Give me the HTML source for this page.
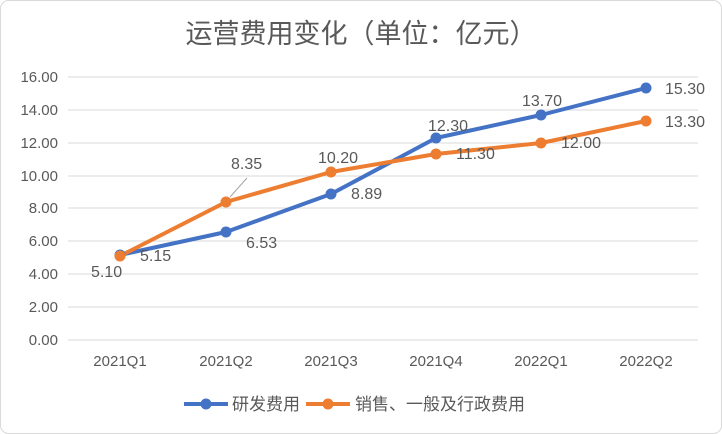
<!DOCTYPE html>
<html><head><meta charset="utf-8"><style>
body{margin:0;background:#fff;}
svg{display:block;font-family:"Liberation Sans","Noto Sans CJK SC",sans-serif;}
</style></head><body>
<svg width="722" height="434" viewBox="0 0 722 434">
<rect x="0.5" y="0.5" width="721" height="433" rx="8" fill="#fff" stroke="#d9d9d9"/>
<text x="361" y="43" text-anchor="middle" font-size="27" fill="#595959">运营费用变化（单位：亿元）</text>
<g stroke="#d9d9d9" stroke-width="1">
<line x1="68" x2="698" y1="77" y2="77"/><line x1="68" x2="698" y1="110" y2="110"/>
<line x1="68" x2="698" y1="143" y2="143"/><line x1="68" x2="698" y1="176" y2="176"/>
<line x1="68" x2="698" y1="208" y2="208"/><line x1="68" x2="698" y1="241" y2="241"/>
<line x1="68" x2="698" y1="274" y2="274"/><line x1="68" x2="698" y1="307" y2="307"/>
<line x1="68" x2="698" y1="340" y2="340"/>
</g>
<g font-size="15" fill="#595959" text-anchor="end">
<text x="58" y="82">16.00</text><text x="58" y="115">14.00</text><text x="58" y="148">12.00</text>
<text x="58" y="181">10.00</text><text x="58" y="213">8.00</text><text x="58" y="246">6.00</text>
<text x="58" y="279">4.00</text><text x="58" y="312">2.00</text><text x="58" y="345">0.00</text>
</g>
<g font-size="15" fill="#595959" text-anchor="middle">
<text x="120" y="366">2021Q1</text><text x="226" y="366">2021Q2</text><text x="331" y="366">2021Q3</text>
<text x="436" y="366">2021Q4</text><text x="541" y="366">2022Q1</text><text x="646" y="366">2022Q2</text>
</g>
<polyline fill="none" stroke="#4472C4" stroke-width="4" stroke-linejoin="round" points="120,255 226,232 331,194 436,138 541,115 646,88"/>
<polyline fill="none" stroke="#ED7D31" stroke-width="4" stroke-linejoin="round" points="120,256 226,202 331,172 436,154 541,143 646,121"/>
<g fill="#4472C4"><circle cx="120" cy="255" r="5.5"/><circle cx="226" cy="232" r="5.5"/><circle cx="331" cy="194" r="5.5"/><circle cx="436" cy="138" r="5.5"/><circle cx="541" cy="115" r="5.5"/><circle cx="646" cy="88" r="5.5"/></g>
<g fill="#ED7D31"><circle cx="120" cy="256" r="5.5"/><circle cx="226" cy="202" r="5.5"/><circle cx="331" cy="172" r="5.5"/><circle cx="436" cy="154" r="5.5"/><circle cx="541" cy="143" r="5.5"/><circle cx="646" cy="121" r="5.5"/></g>
<line x1="230" y1="197" x2="247" y2="178" stroke="#a6a6a6" stroke-width="1"/>
<g font-size="16" fill="#595959">
<text x="140" y="261">5.15</text><text x="91" y="277">5.10</text>
<text x="246" y="248">6.53</text><text x="231" y="169">8.35</text>
<text x="351" y="199">8.89</text><text x="318" y="163">10.20</text>
<text x="428" y="131">12.30</text><text x="456" y="159">11.30</text>
<text x="522" y="106">13.70</text><text x="561" y="148">12.00</text>
<text x="665" y="94">15.30</text><text x="665" y="127">13.30</text>
</g>
<line x1="184" y1="404" x2="228" y2="404" stroke="#4472C4" stroke-width="4"/><circle cx="206" cy="404" r="5.5" fill="#4472C4"/>
<text x="232" y="410" font-size="17" fill="#595959">研发费用</text>
<line x1="306" y1="404" x2="350" y2="404" stroke="#ED7D31" stroke-width="4"/><circle cx="328" cy="404" r="5.5" fill="#ED7D31"/>
<text x="355" y="410" font-size="17" fill="#595959">销售、一般及行政费用</text>
</svg>
</body></html>
